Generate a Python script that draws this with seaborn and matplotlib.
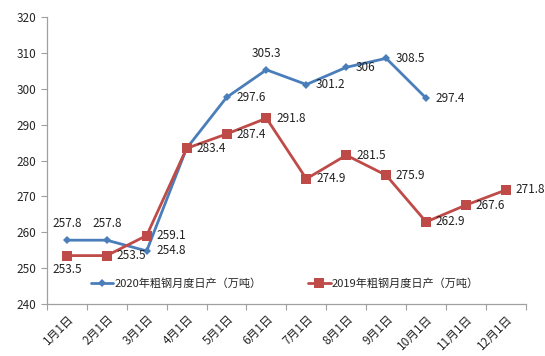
import matplotlib
matplotlib.use("Agg")
import matplotlib.pyplot as plt
import seaborn as sns
import pandas as pd
import numpy as np
from matplotlib.ticker import MultipleLocator, FixedLocator
from matplotlib.lines import Line2D

months = ["1月1日", "2月1日", "3月1日", "4月1日", "5月1日", "6月1日",
          "7月1日", "8月1日", "9月1日", "10月1日", "11月1日", "12月1日"]
vals_2020 = [257.8, 257.8, 254.8, 283.4, 297.6, 305.3, 301.2, 306, 308.5, 297.4]
vals_2019 = [253.5, 253.5, 259.1, 283.4, 287.4, 291.8, 274.9, 281.5, 275.9, 262.9, 267.6, 271.8]
name_2020 = "2020年粗钢月度日产（万吨）"
name_2019 = "2019年粗钢月度日产（万吨）"
labels_2020 = ["257.8", "257.8", "254.8", "", "297.6", "305.3", "301.2", "306", "308.5", "297.4"]
labels_2019 = ["253.5", "253.5", "259.1", "283.4", "287.4", "291.8", "274.9", "281.5", "275.9", "262.9", "267.6", "271.8"]
# label placement: 'a' above, 'b' below, 'r' right
pos_2020 = ["a", "a", "r", "r", "r", "a", "r", "r", "r", "r"]
pos_2019 = ["b", "r", "r", "r", "r", "r", "r", "r", "r", "r", "r", "r"]

sns.set_theme(style="white")
plt.rcParams['font.family'] = ['Noto Sans CJK SC', 'DejaVu Sans']

blue = "#4A7EBB"
red = "#BE4B48"

df = pd.concat([
    pd.DataFrame({"x": np.arange(len(vals_2020)), "y": vals_2020, "s": name_2020}),
    pd.DataFrame({"x": np.arange(len(vals_2019)), "y": vals_2019, "s": name_2019}),
])

fig = plt.figure(figsize=(5.45, 3.56), dpi=100)
ax = fig.add_axes([0.086, 0.146, 0.879, 0.806])

sns.lineplot(data=df, x="x", y="y", hue="s", style="s",
             palette={name_2020: blue, name_2019: red},
             markers={name_2020: "D", name_2019: "s"},
             dashes=False, linewidth=2.0, ax=ax, legend=False,
             markeredgewidth=0)
for line in ax.lines:
    if matplotlib.colors.to_hex(line.get_color()).lower() == blue.lower():
        line.set_markersize(4.5)
    else:
        line.set_markersize(6.5)

def annotate(vals, labels, pos):
    for i, (v, t, p) in enumerate(zip(vals, labels, pos)):
        if not t:
            continue
        if p == "a":
            ax.annotate(t, (i, v), xytext=(0, 7), textcoords="offset points",
                        ha="center", va="bottom", fontsize=8.5, color="#222222")
        elif p == "b":
            ax.annotate(t, (i, v), xytext=(0, -5), textcoords="offset points",
                        ha="center", va="top", fontsize=8.5, color="#222222")
        else:
            ax.annotate(t, (i, v), xytext=(7, 0), textcoords="offset points",
                        ha="left", va="center", fontsize=8.5, color="#222222")

annotate(vals_2020, labels_2020, pos_2020)
annotate(vals_2019, labels_2019, pos_2019)

ax.set_xlim(-0.5, 11.5)
ax.set_ylim(240, 320)
ax.yaxis.set_major_locator(MultipleLocator(10))
ax.set_xticks(np.arange(len(months)))
ax.set_xticklabels(months, rotation=45, ha="right", rotation_mode="anchor", fontsize=8.5)
ax.xaxis.set_minor_locator(FixedLocator(np.arange(-0.5, 12, 1)))
ax.tick_params(axis="x", which="major", length=0, pad=6)
ax.tick_params(axis="x", which="minor", length=4, color="#A0A0A0", width=0.8, direction="out", bottom=True)
ax.tick_params(axis="y", which="major", length=4, color="#A0A0A0", width=0.8, direction="out", left=True, labelsize=8.5)
ax.set_xlabel("")
ax.set_ylabel("")
sns.despine(ax=ax)
for sp in ["left", "bottom"]:
    ax.spines[sp].set_color("#A0A0A0")
    ax.spines[sp].set_linewidth(0.9)

handles = [Line2D([], [], color=blue, lw=2.0, marker="D", markersize=4.5, markeredgewidth=0),
           Line2D([], [], color=red, lw=2.0, marker="s", markersize=6.5, markeredgewidth=0)]
ax.legend(handles, [name_2020, name_2019], loc="center", bbox_to_anchor=(0.497, 0.07),
          ncol=2, frameon=False, fontsize=8, handlelength=2.0, handletextpad=0.1,
          columnspacing=4.2)

fig.savefig("out.png", dpi=100)
